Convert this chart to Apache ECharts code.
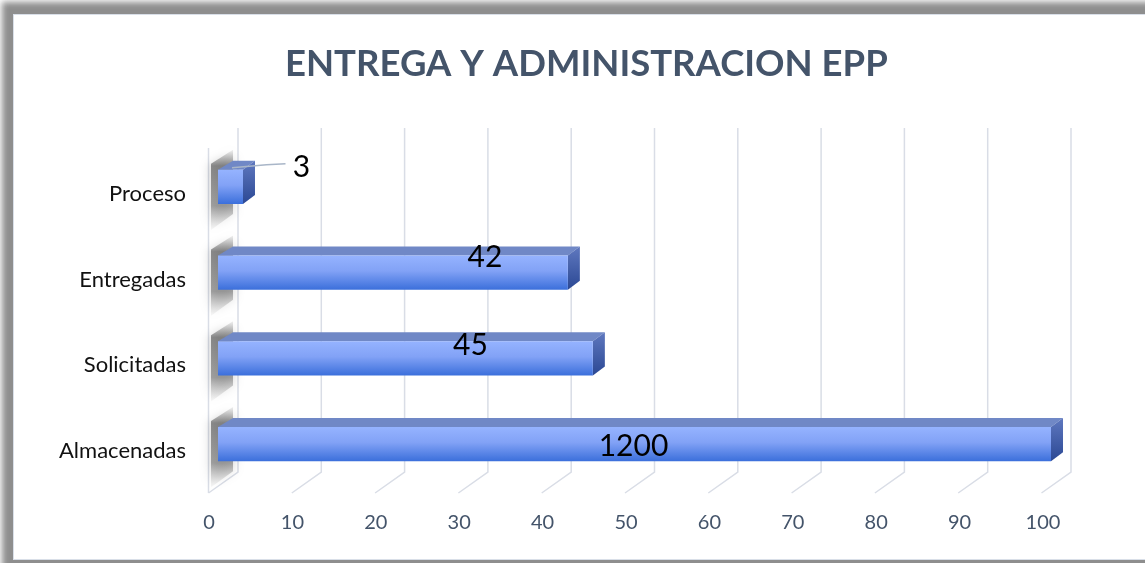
<!DOCTYPE html>
<html>
<head>
<meta charset="utf-8">
<script src="https://cdn.jsdelivr.net/npm/echarts@6/dist/echarts.min.js"></script>
<style>
  html, body { margin: 0; padding: 0; background: #fff; overflow: hidden; }
  #shade { position: absolute; left: 2px; top: 2px; width: 1170px; height: 575px; background: #8e8e8e; filter: blur(3px); }
  #panel { position: absolute; left: 13px; top: 14px; width: 1160px; height: 544px; background: #fff; border: 1px solid #d9dfe8; }
  #chart { position: absolute; left: 0; top: 0; width: 1145px; height: 563px; }
</style>
</head>
<body>
<div id="shade"></div>
<div id="panel"></div>
<div id="chart"></div>
<script>
// data (bottom to top, as the category axis draws them)
const categories = ['Almacenadas', 'Solicitadas', 'Entregadas', 'Proceso']
const values = [1200, 45, 42, 3]
const xTicks = [0, 10, 20, 30, 40, 50, 60, 70, 80, 90, 100]
const axisMax = 100

// label nudges in px (Excel put them off-centre)
const labelShift = [[-1, 2], [65, -13], [92, -15], [71, -20]]

const depthX = 12
const depthY = 9

const chart = echarts.init(document.getElementById('chart'))

function renderGrid(params, api) {
  const cs = params.coordSys
  const v = api.value(0)
  const x = api.coord([v, 0])[0]
  const backX = x + 20
  const frontX = x - 9.5
  const top = cs.y - 16
  const backBottom = cs.y + cs.height - 15
  const frontBottom = cs.y + cs.height + 6
  const children = [{
    type: 'polyline',
    shape: { points: [[backX, top], [backX, backBottom], [frontX, frontBottom]] },
    style: { stroke: '#d9dde6', lineWidth: 1.5, fill: null }
  }]
  if (v === 0) {
    children.push({
      type: 'line',
      shape: { x1: frontX, y1: cs.y + 4, x2: frontX, y2: frontBottom },
      style: { stroke: '#d9dde6', lineWidth: 1.5 }
    })
  }
  return { type: 'group', children: children }
}

function renderBar(params, api) {
  const idx = api.value(1)
  const shown = api.value(0)
  const actual = api.value(2)
  const start = api.coord([0, idx])
  const end = api.coord([shown, idx])
  const h = api.size([0, 1])[1] * 0.4
  const x0 = start[0]
  const x1 = end[0]
  const yt = start[1] - h / 2
  const yb = start[1] + h / 2
  const shift = labelShift[idx]
  const children = [
    // soft shadow on the left wall
    {
      type: 'polygon',
      shape: { points: [[x0 - 7, yt - 6], [x0 + 15, yt - 20], [x0 + 15, yb + 10], [x0 - 7, yb + 26]] },
      style: {
        fill: new echarts.graphic.LinearGradient(0, 0, 0, 1, [
          { offset: 0, color: 'rgba(120,120,120,0.1)' },
          { offset: 0.2, color: 'rgba(95,95,95,0.7)' },
          { offset: 0.7, color: 'rgba(110,110,110,0.6)' },
          { offset: 1, color: 'rgba(170,170,170,0.08)' }
        ]),
        shadowBlur: 12,
        shadowColor: 'rgba(0,0,0,0.3)'
      }
    },
    // top face
    {
      type: 'polygon',
      shape: { points: [[x0, yt], [x1, yt], [x1 + depthX, yt - depthY], [x0 + depthX + 3, yt - depthY]] },
      style: { fill: '#7088c6' }
    },
    // side face
    {
      type: 'polygon',
      shape: { points: [[x1, yt], [x1 + depthX, yt - depthY], [x1 + depthX, yb - depthY], [x1, yb]] },
      style: {
        fill: new echarts.graphic.LinearGradient(0, 0, 0, 1, [
          { offset: 0, color: '#5f78bf' },
          { offset: 1, color: '#2b4894' }
        ])
      }
    },
    // front face
    {
      type: 'rect',
      shape: { x: x0, y: yt, width: x1 - x0, height: h },
      style: {
        fill: new echarts.graphic.LinearGradient(0, 0, 0, 1, [
          { offset: 0, color: '#95b3ff' },
          { offset: 0.45, color: '#82a2f6' },
          { offset: 1, color: '#3b6fdb' }
        ])
      }
    }
  ]
  const lx = (x0 + x1) / 2 + shift[0]
  const ly = start[1] + shift[1]
  if (shown < 5) {
    // outside label with leader line
    children.push({
      type: 'polyline',
      shape: { points: [[x0 + 14, yt - 2], [lx - 35, yt - 5], [lx - 16, yt - 6]] },
      style: { stroke: '#a9b6c8', lineWidth: 1.5, fill: null }
    })
  }
  children.push({
    type: 'text',
    style: {
      text: String(actual),
      x: lx,
      y: ly,
      align: 'center',
      verticalAlign: 'middle',
      font: '30px Lato',
      fill: '#000'
    }
  })
  return { type: 'group', children: children }
}

chart.setOption({
  animation: false,
  title: {
    text: 'ENTREGA Y ADMINISTRACION EPP',
    left: 280,
    top: 41,
    textStyle: { fontFamily: 'Lato', fontWeight: 'bold', fontSize: 36.5, color: '#44546a' }
  },
  grid: [
    { left: 218, right: 94, top: 144, bottom: 76 },
    { left: 209, right: 102, top: 144, bottom: 70 },
    // category labels sit a little lower than the bar fronts
    { left: 218, right: 94, top: 151, bottom: 69 }
  ],
  xAxis: [
    { type: 'value', gridIndex: 0, min: 0, max: axisMax, interval: 10, show: false },
    {
      type: 'value', gridIndex: 1, min: 0, max: axisMax, interval: 10,
      axisLine: { show: false }, axisTick: { show: false }, splitLine: { show: false },
      axisLabel: { margin: 20, color: '#44546a', fontFamily: 'Lato', fontSize: 20 }
    },
    { type: 'value', gridIndex: 2, min: 0, max: axisMax, show: false }
  ],
  yAxis: [
    { type: 'category', gridIndex: 0, data: categories, show: false },
    { type: 'category', gridIndex: 1, data: categories, show: false },
    {
      type: 'category', gridIndex: 2, data: categories,
      axisLine: { show: false }, axisTick: { show: false },
      axisLabel: { margin: 32, color: '#111', fontFamily: 'Lato', fontSize: 22 }
    }
  ],
  series: [
    {
      type: 'custom',
      xAxisIndex: 0, yAxisIndex: 0,
      renderItem: renderGrid,
      data: xTicks.map(t => [t, 0]),
      silent: true,
      z: 1
    },
    {
      type: 'custom',
      xAxisIndex: 0, yAxisIndex: 0,
      renderItem: renderBar,
      encode: { x: 0, y: 1 },
      data: values.map((v, i) => [Math.min(v, axisMax), i, v]),
      z: 2
    }
  ]
})
</script>
</body>
</html>
